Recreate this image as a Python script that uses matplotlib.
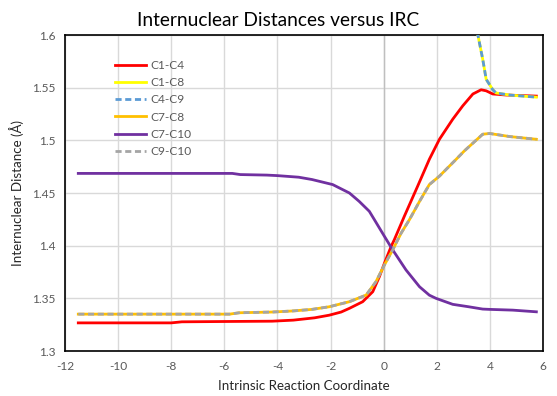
import matplotlib
matplotlib.use("Agg")
import matplotlib.pyplot as plt

plt.rcParams['font.family'] = ['Lato', 'DejaVu Sans']

# Data
c1c4_x = [-11.5, -8.0, -7.6, -6.0, -4.2, -3.4, -2.6, -2.05, -1.6, -1.29, -0.79, -0.41, -0.16,
          0.03, 0.28, 0.40, 0.78, 1.28, 1.72, 2.1, 2.6, 2.98, 3.36, 3.67, 3.86,
          4.11, 4.62, 5.75]
c1c4_y = [1.3267, 1.3267, 1.3277, 1.3280, 1.3283, 1.3293, 1.3315, 1.334, 1.337, 1.3405, 1.3468,
          1.3563, 1.3706, 1.3834, 1.3992, 1.4056, 1.428, 1.4565, 1.482, 1.501,
          1.520, 1.5328, 1.544, 1.548, 1.547, 1.544, 1.543, 1.542]

c1c8_x = [3.3, 3.54, 3.73, 3.86, 4.11, 4.23, 4.74, 5.75]
c1c8_y = [1.63, 1.601, 1.577, 1.558, 1.548, 1.545, 1.543, 1.541]
c4c9_x = [3.3, 3.54, 3.73, 3.86, 4.11, 4.23, 4.74, 5.75]
c4c9_y = [1.63, 1.601, 1.577, 1.558, 1.548, 1.545, 1.543, 1.541]

c7c8_x = [-11.5, -5.8, -5.44, -4.19, -3.43, -2.7, -2.05, -1.29, -0.66, -0.29, 0.03, 0.34, 0.66,
          0.97, 1.35, 1.72, 2.1, 2.73, 3.04, 3.73, 3.99, 4.74, 5.75]
c7c8_y = [1.335, 1.335, 1.3363, 1.337, 1.338, 1.3395, 1.342, 1.3468, 1.3531, 1.3658, 1.3818,
          1.396, 1.412, 1.4247, 1.442, 1.458, 1.466, 1.482, 1.490, 1.5058, 1.5065, 1.5036, 1.501]
c9c10_x = list(c7c8_x)
c9c10_y = list(c7c8_y)

c7c10_x = [-11.5, -5.7, -5.4, -4.4, -4.0, -3.2, -2.7, -1.92, -1.29, -0.92, -0.54, -0.35, 0.03,
           0.34, 0.84, 1.35, 1.72, 1.97, 2.6, 3.2, 3.73, 4.0, 4.86, 5.75]
c7c10_y = [1.4686, 1.4686, 1.4675, 1.4670, 1.4665, 1.4650, 1.4628, 1.458, 1.450, 1.442, 1.4326,
           1.4247, 1.4088, 1.396, 1.377, 1.361, 1.353, 1.350, 1.3443, 1.342, 1.3398, 1.3395,
           1.3388, 1.3372]

series_names = ['C1-C4', 'C1-C8', 'C4-C9', 'C7-C8', 'C7-C10', 'C9-C10']
x_ticks = [-12, -10, -8, -6, -4, -2, 0, 2, 4, 6]
y_ticks = [1.3, 1.35, 1.4, 1.45, 1.5, 1.55, 1.6]
y_tick_labels = ['1.3', '1.35', '1.4', '1.45', '1.5', '1.55', '1.6']

fig = plt.figure(figsize=(5.57, 3.96), dpi=100)
ax = fig.add_axes([65/557, 1 - 351/396, (543 - 65)/557, (351 - 35)/396])

lw = 2.0
dash = (2.2, 1.3)
ax.plot(c1c4_x, c1c4_y, color='#FF0000', lw=lw, label=series_names[0], zorder=3)
ax.plot(c1c8_x, c1c8_y, color='#FFFF00', lw=lw, label=series_names[1], zorder=4)
ax.plot(c4c9_x, c4c9_y, color='#5B9BD5', lw=lw, dashes=dash, label=series_names[2], zorder=5)
ax.plot(c7c8_x, c7c8_y, color='#FFC000', lw=lw, label=series_names[3], zorder=6)
ax.plot(c7c10_x, c7c10_y, color='#7030A0', lw=lw, label=series_names[4], zorder=7)
ax.plot(c9c10_x, c9c10_y, color='#A5A5A5', lw=lw, dashes=dash, label=series_names[5], zorder=8)

ax.set_xlim(-12, 6)
ax.set_ylim(1.3, 1.6)
ax.set_xticks(x_ticks)
ax.set_xticklabels([str(t) for t in x_ticks])
ax.set_yticks(y_ticks)
ax.set_yticklabels(y_tick_labels)
ax.grid(True, color='#D9D9D9', lw=1.0, zorder=0)
ax.axvline(0, color='#BFBFBF', lw=1.0, zorder=1)
ax.set_axisbelow(True)
for s in ax.spines.values():
    s.set_color('black')
    s.set_linewidth(1.2)
ax.tick_params(length=0, labelsize=8.6, labelcolor='#595959', pad=7)

fig.text(0.5, 1 - 20/396, 'Internuclear Distances versus IRC', fontsize=13.8, color='black',
         ha='center', va='center')
ax.set_xlabel('Intrinsic Reaction Coordinate', fontsize=9.6, color='#262626', labelpad=6)
ax.set_ylabel('Internuclear Distance (Å)', fontsize=9.6, color='#262626', labelpad=6)

leg = ax.legend(loc='upper left', bbox_to_anchor=(0.094, 0.937), frameon=False,
                fontsize=8.6, handlelength=2.6, handletextpad=0.4, labelspacing=0.53,
                borderaxespad=0)
for t in leg.get_texts():
    t.set_color('#595959')

fig.savefig('out.png', dpi=100)
